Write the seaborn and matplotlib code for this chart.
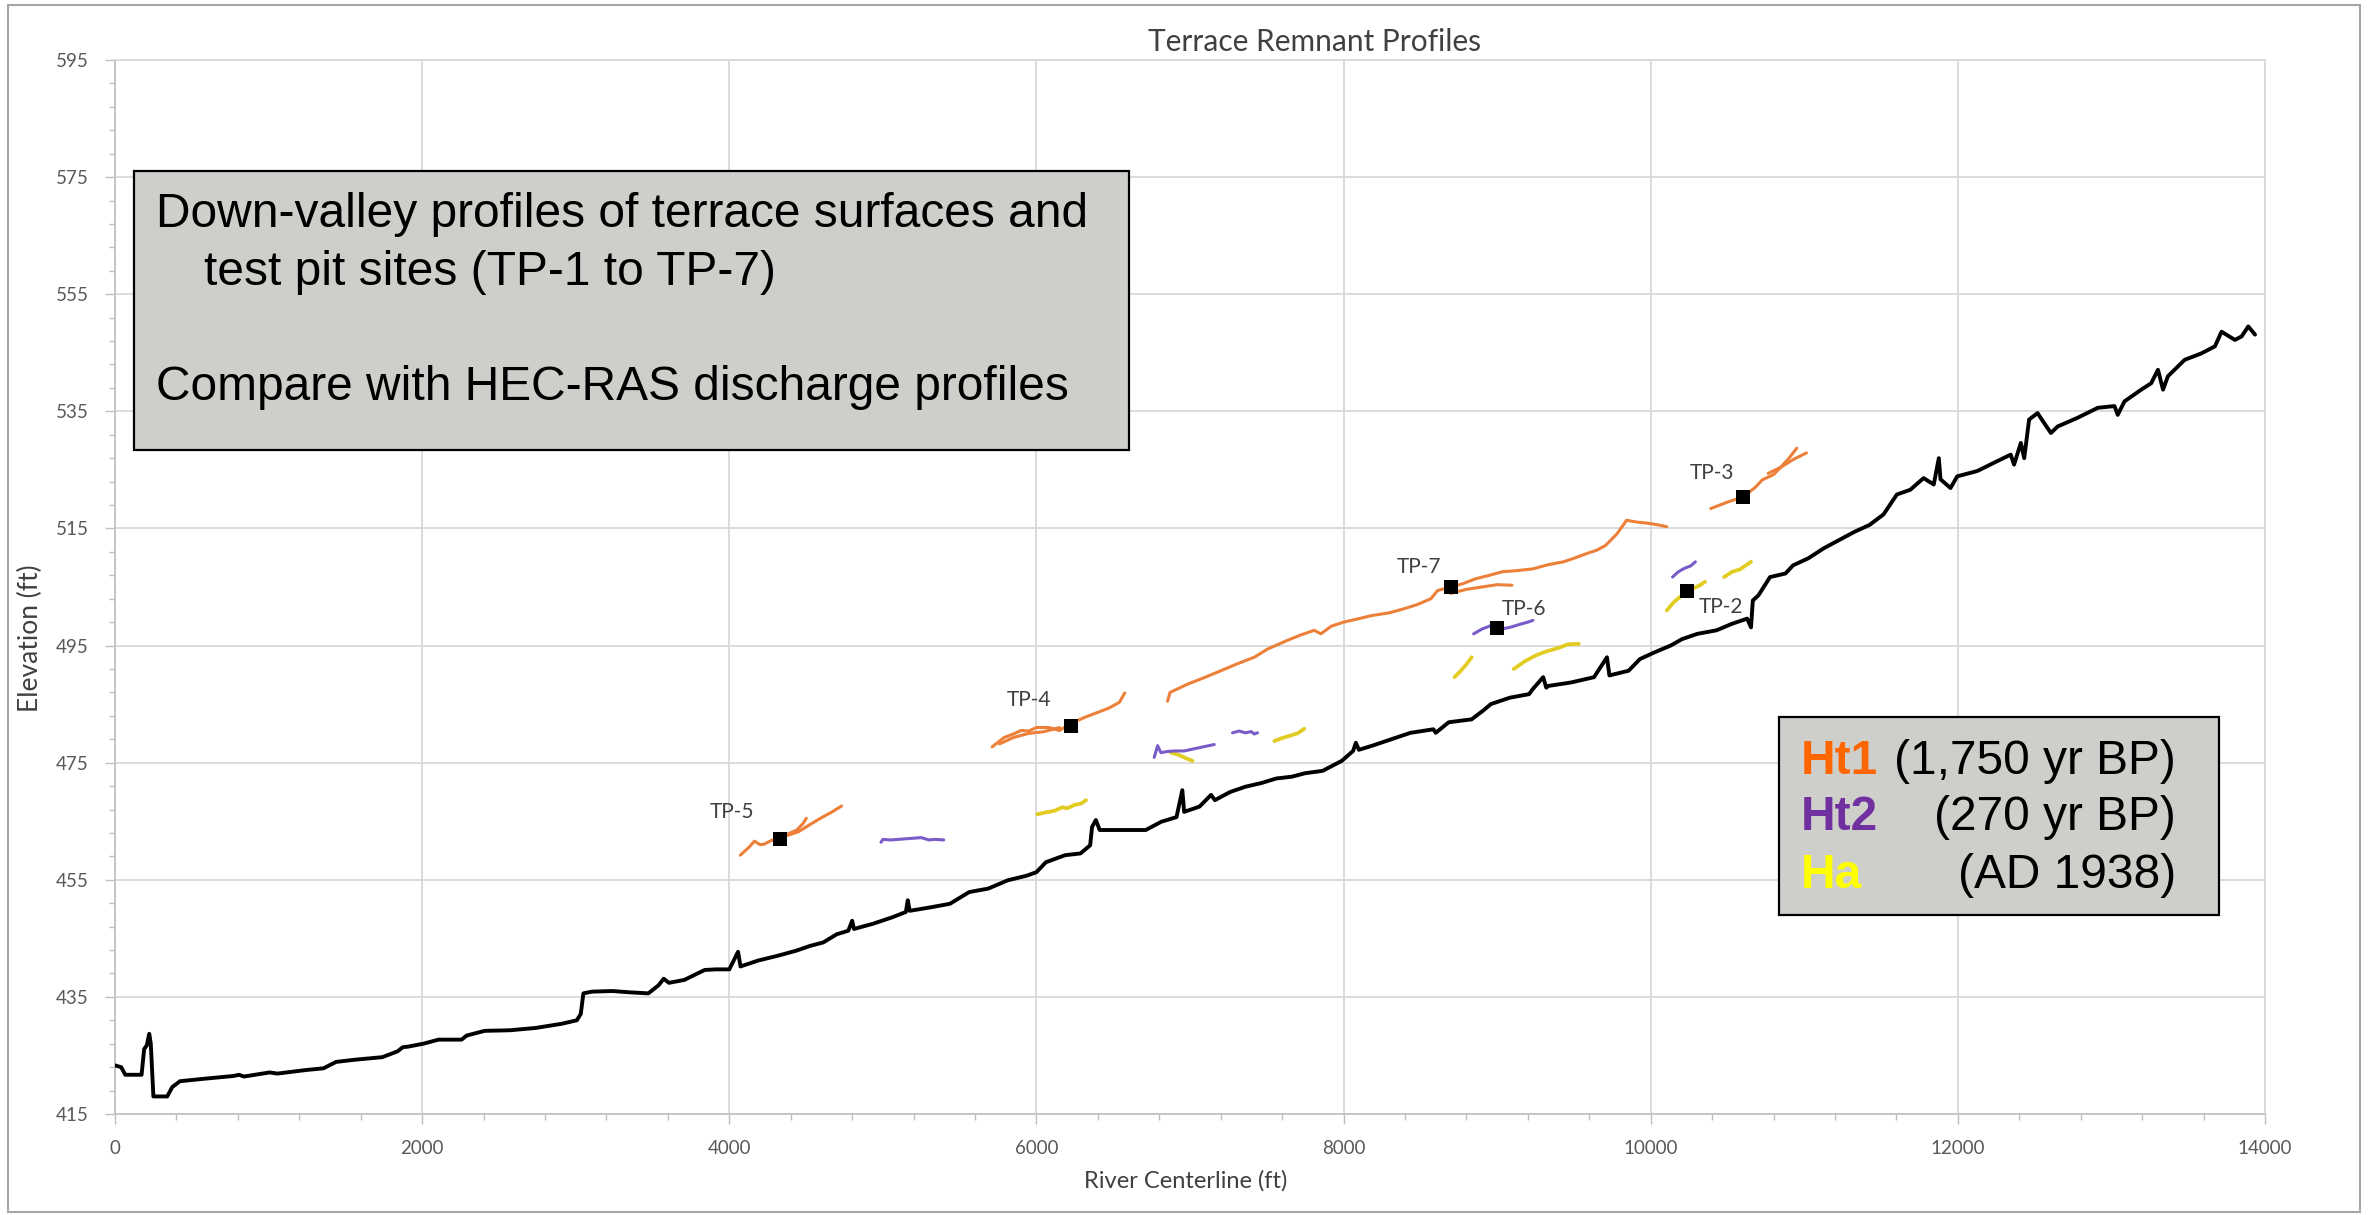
import numpy as np
import pandas as pd
import matplotlib
matplotlib.use("Agg")
import matplotlib.pyplot as plt
import seaborn as sns
from matplotlib.patches import Rectangle
from matplotlib.ticker import FixedLocator

# ---------------- data ----------------
# River thalweg profile (black line): river centerline distance (ft) vs elevation (ft)
thal_x = [0, 40, 67, 173, 190, 207, 223, 233, 250, 340, 373, 423, 573, 773, 807, 840, 1007, 1057,
          1240, 1357, 1440, 1573, 1740, 1840, 1873, 1907, 2007, 2107, 2257, 2290, 2407, 2573, 2740,
          2907, 3007, 3033, 3050, 3107, 3240, 3340, 3473, 3540, 3573, 3607, 3707, 3840, 3912, 4000,
          4057, 4073, 4187, 4312, 4437, 4525, 4612, 4700, 4775, 4800, 4812, 4937, 5062, 5150, 5162,
          5175, 5312, 5437, 5562, 5687, 5812, 5937, 6000, 6062, 6187, 6287, 6350, 6362, 6387, 6412,
          6562, 6712, 6812, 6912, 6950, 6962, 7062, 7137, 7162, 7262, 7362, 7462, 7562, 7662, 7750,
          7863, 7988, 8062, 8080, 8100, 8187, 8311, 8436, 8585, 8600, 8685, 8834, 8909, 8959, 9083,
          9208, 9233, 9300, 9320, 9333, 9482, 9631, 9715, 9731, 9856, 9930, 10030, 10130, 10204,
          10304, 10428, 10528, 10628, 10653, 10665, 10702, 10777, 10877, 10927, 11026, 11126, 11226,
          11325, 11425, 11516, 11603, 11690, 11777, 11843, 11876, 11887, 11952, 11996, 12126, 12257,
          12344, 12366, 12410, 12432, 12464, 12519, 12562, 12606, 12649, 12780, 12911, 13020, 13041,
          13085, 13194, 13259, 13303, 13336, 13368, 13477, 13586, 13674, 13717, 13804, 13848, 13891,
          13935]
thal_y = [423.3, 423.0, 421.7, 421.7, 426.1, 426.7, 428.7, 427.0, 418.0, 418.0, 419.6, 420.6, 421.0,
          421.5, 421.7, 421.4, 422.1, 421.9, 422.5, 422.8, 423.9, 424.3, 424.7, 425.7, 426.4, 426.5,
          427.0, 427.7, 427.7, 428.4, 429.2, 429.3, 429.7, 430.4, 431.0, 432.1, 435.6, 435.9, 436.0,
          435.8, 435.6, 437.0, 438.1, 437.4, 437.9, 439.6, 439.7, 439.7, 442.7, 440.2, 441.2, 442.0,
          442.9, 443.7, 444.3, 445.7, 446.3, 448.0, 446.6, 447.5, 448.6, 449.5, 451.5, 449.7, 450.3,
          450.9, 452.9, 453.5, 454.9, 455.7, 456.3, 458.0, 459.2, 459.5, 460.9, 464.0, 465.2, 463.5,
          463.5, 463.5, 464.9, 465.7, 470.3, 466.6, 467.5, 469.5, 468.6, 470.0, 470.9, 471.5, 472.3,
          472.6, 473.2, 473.6, 475.3, 477.0, 478.4, 477.2, 477.9, 479.0, 480.1, 480.7, 480.1, 481.9,
          482.4, 483.9, 485.0, 486.1, 486.7, 487.6, 489.6, 487.8, 488.1, 488.7, 489.6, 493.0, 489.9,
          490.7, 492.7, 493.9, 495.0, 496.1, 497.0, 497.6, 498.7, 499.6, 498.1, 502.7, 503.6, 506.7,
          507.3, 508.7, 509.9, 511.6, 513.0, 514.4, 515.6, 517.4, 520.8, 521.6, 523.6, 522.5, 527.0,
          523.4, 521.9, 523.9, 524.8, 526.5, 527.6, 525.9, 529.6, 527.0, 533.6, 534.7, 533.0, 531.3,
          532.4, 533.9, 535.6, 535.9, 534.4, 536.7, 538.7, 539.8, 542.1, 538.7, 541.0, 543.8, 544.9,
          546.1, 548.6, 547.2, 547.8, 549.5, 548.1]

# Ht1 terrace remnants (orange)
ht1_tp5a_x = [4072, 4130, 4164, 4200, 4229, 4280, 4327, 4380, 4440, 4480, 4502]
ht1_tp5a_y = [459.2, 460.6, 461.6, 461.0, 461.1, 461.8, 462.2, 462.8, 463.5, 464.6, 465.5]
ht1_tp5b_x = [4381, 4450, 4530, 4600, 4670, 4731]
ht1_tp5b_y = [462.6, 463.2, 464.5, 465.6, 466.6, 467.6]
ht1_tp4a_x = [5712, 5790, 5850, 5900, 5950, 6000, 6080, 6150, 6200, 6250, 6320, 6400, 6470, 6540, 6575]
ht1_tp4a_y = [477.7, 479.3, 479.9, 480.5, 480.4, 481.0, 481.0, 480.5, 481.3, 482.0, 482.8, 483.6, 484.3, 485.3, 486.9]
ht1_tp4b_x = [5760, 5850, 5950, 6050, 6150]
ht1_tp4b_y = [478.2, 479.3, 480.0, 480.3, 481.0]
ht1_tp7a_x = [6854, 6870, 6984, 7100, 7201, 7300, 7418, 7505, 7635, 7720, 7809, 7852, 7920, 8000,
              8100, 8178, 8300, 8395, 8480, 8569, 8612, 8699, 8780, 8859, 8950, 9034, 9130, 9233,
              9330, 9432, 9510, 9582, 9650, 9706, 9781, 9843, 9905, 9980, 10050, 10105]
ht1_tp7a_y = [485.5, 487.0, 488.4, 489.6, 490.7, 491.8, 493.0, 494.4, 495.9, 496.8, 497.6, 497.0,
              498.3, 499.0, 499.6, 500.1, 500.6, 501.3, 502.0, 503.0, 504.4, 505.0, 505.6, 506.4,
              507.0, 507.6, 507.8, 508.1, 508.8, 509.3, 510.0, 510.7, 511.3, 512.1, 514.1, 516.4,
              516.1, 515.9, 515.6, 515.3]
ht1_tp7b_x = [8697, 8800, 8900, 9000, 9096]
ht1_tp7b_y = [503.9, 504.6, 505.0, 505.4, 505.3]
ht1_tp3a_x = [10391, 10500, 10603, 10680, 10727, 10800, 10852, 10900, 10951]
ht1_tp3a_y = [518.4, 519.5, 520.4, 522.0, 523.3, 524.2, 525.6, 527.0, 528.7]
ht1_tp3b_x = [10765, 10850, 10930, 11014]
ht1_tp3b_y = [524.4, 525.5, 526.8, 527.9]

# Ht2 terrace remnants (purple)
ht2_a_x = [4988, 5000, 5050, 5100, 5150, 5200, 5250, 5300, 5340, 5396]
ht2_a_y = [461.4, 461.9, 461.8, 461.9, 462.0, 462.1, 462.2, 461.8, 461.9, 461.8]
ht2_b_x = [6767, 6789, 6811, 6850, 6900, 6962, 7050, 7158]
ht2_b_y = [475.9, 477.9, 476.7, 476.9, 477.0, 477.0, 477.5, 478.1]
ht2_c_x = [7277, 7320, 7360, 7400, 7418, 7440]
ht2_c_y = [480.1, 480.4, 480.1, 480.3, 479.9, 480.1]
ht2_tp6_x = [8847, 8900, 8959, 8996, 9040, 9083, 9120, 9158, 9200, 9233]
ht2_tp6_y = [497.0, 497.8, 498.4, 498.0, 497.9, 498.1, 498.4, 498.7, 499.0, 499.3]
ht2_tp2_x = [10142, 10180, 10220, 10260, 10291]
ht2_tp2_y = [506.7, 507.6, 508.2, 508.6, 509.3]

# Ha terrace remnants (yellow)
ha_a_x = [6006, 6060, 6120, 6170, 6200, 6250, 6290, 6323]
ha_a_y = [466.2, 466.5, 466.8, 467.4, 467.2, 467.8, 468.0, 468.6]
ha_b_x = [6876, 6920, 6970, 7017]
ha_b_y = [476.7, 476.4, 475.8, 475.3]
ha_c_x = [7549, 7600, 7650, 7700, 7744]
ha_c_y = [478.7, 479.2, 479.6, 480.0, 480.8]
ha_d_x = [8722, 8760, 8800, 8834]
ha_d_y = [489.6, 490.6, 491.8, 493.0]
ha_e_x = [9108, 9180, 9250, 9320, 9400, 9460, 9532]
ha_e_y = [491.0, 492.3, 493.3, 494.0, 494.6, 495.2, 495.3]
ha_f_x = [10105, 10150, 10200, 10237, 10280, 10320, 10354]
ha_f_y = [501.0, 502.4, 503.5, 504.2, 504.8, 505.3, 505.9]
ha_g_x = [10478, 10530, 10580, 10620, 10653]
ha_g_y = [506.7, 507.6, 508.0, 508.7, 509.3]

# Test pit sites
tp_names = ["TP-5", "TP-4", "TP-7", "TP-6", "TP-2", "TP-3"]
tp_x = [4327, 6225, 8699, 8996, 10237, 10603]
tp_y = [462.0, 481.2, 505.0, 498.0, 504.4, 520.4]
tp_label_x = [4020, 5950, 8491, 9178, 10458, 10396]
tp_label_y = [466.6, 485.7, 508.4, 501.3, 501.6, 524.4]

x_ticks = [0, 2000, 4000, 6000, 8000, 10000, 12000, 14000]
y_ticks = [415, 435, 455, 475, 495, 515, 535, 555, 575, 595]

# ---------------- styling ----------------
sns.set_theme(style="whitegrid")
plt.rcParams['font.family'] = ['Lato', 'DejaVu Sans']

W, H = 2371, 1215
fig = plt.figure(figsize=(W / 100, H / 100), dpi=100)
fig.patch.set_facecolor("white")

def fx(px):
    return px / W

def fy(py):
    return 1 - py / H

ax = fig.add_axes([fx(115), fy(1114), (2265 - 115) / W, (1114 - 60) / H])
ax.set_facecolor("white")

# thalweg
thal = pd.DataFrame({"x": thal_x, "y": thal_y})
sns.lineplot(data=thal, x="x", y="y", sort=False, estimator=None, color="black",
             lw=2.8, ax=ax, zorder=3)

def build(cls, segs):
    rows = []
    for i, (xs, ys) in enumerate(segs):
        for x, y in zip(xs, ys):
            rows.append((cls, f"{cls}-{i}", x, y))
    return pd.DataFrame(rows, columns=["terrace", "seg", "x", "y"])

df_ht1 = build("Ht1", [(ht1_tp5a_x, ht1_tp5a_y), (ht1_tp5b_x, ht1_tp5b_y),
                       (ht1_tp4a_x, ht1_tp4a_y), (ht1_tp4b_x, ht1_tp4b_y),
                       (ht1_tp7a_x, ht1_tp7a_y), (ht1_tp7b_x, ht1_tp7b_y),
                       (ht1_tp3a_x, ht1_tp3a_y), (ht1_tp3b_x, ht1_tp3b_y)])
df_ht2 = build("Ht2", [(ht2_a_x, ht2_a_y), (ht2_b_x, ht2_b_y), (ht2_c_x, ht2_c_y),
                       (ht2_tp6_x, ht2_tp6_y), (ht2_tp2_x, ht2_tp2_y)])
df_ha = build("Ha", [(ha_a_x, ha_a_y), (ha_b_x, ha_b_y), (ha_c_x, ha_c_y), (ha_d_x, ha_d_y),
                     (ha_e_x, ha_e_y), (ha_f_x, ha_f_y), (ha_g_x, ha_g_y)])

for d, col, lw in [(df_ha, "#E2CC22", 2.7), (df_ht2, "#7A5CC8", 2.2), (df_ht1, "#EC8038", 2.2)]:
    sns.lineplot(data=d, x="x", y="y", units="seg", estimator=None, sort=False,
                 color=col, lw=lw, legend=False, ax=ax, zorder=4)

sns.scatterplot(x=tp_x, y=tp_y, marker="s", s=95, color="black", edgecolor="black",
                linewidth=0, ax=ax, zorder=6, legend=False)
for name, lx, ly in zip(tp_names, tp_label_x, tp_label_y):
    ax.text(lx, ly, name, ha="center", va="center", fontsize=15, color="#404040", zorder=7)

# axes
ax.set_xlim(0, 14000)
ax.set_ylim(415, 595)
ax.set_xticks(x_ticks)
ax.set_yticks(y_ticks)
ax.xaxis.set_minor_locator(FixedLocator(np.arange(0, 14001, 400)))
ax.yaxis.set_minor_locator(FixedLocator(np.arange(415, 596, 4)))
ax.grid(which="major", color="#d9d9d9", lw=1.3)
ax.grid(which="minor", visible=False)
ax.tick_params(axis="both", which="major", labelsize=13.5, labelcolor="#595959", color="#bfbfbf",
               length=7, width=1, direction="out", left=True, bottom=True, pad=12)
ax.tick_params(axis="both", which="minor", color="#bfbfbf", length=4, width=1,
               direction="out", left=True, bottom=True)
for side in ["left", "bottom"]:
    ax.spines[side].set_color("#bfbfbf")
    ax.spines[side].set_linewidth(1.2)
for side in ["top", "right"]:
    ax.spines[side].set_color("#d9d9d9")
    ax.spines[side].set_linewidth(1.3)
ax.set_xlabel("")
ax.set_ylabel("")

fig.text(fx(1186), fy(1181), "River Centerline (ft)", ha="center", va="center",
         fontsize=17, color="#404040")
fig.text(fx(30), fy(638), "Elevation (ft)", ha="center", va="center", rotation=90,
         fontsize=19, color="#404040")
fig.text(fx(1315), fy(42), "Terrace Remnant Profiles", ha="center", va="center",
         fontsize=21.5, color="#404040")

# annotation box
box_font = ["Liberation Sans", "DejaVu Sans"]
FS = 34.5
fig.add_artist(Rectangle((fx(134), fy(450)), (1129 - 134) / W, (450 - 171) / H,
                         transform=fig.transFigure, facecolor="#CECECA", edgecolor="black",
                         lw=1.6, zorder=10))
fig.text(fx(156), fy(227), "Down-valley profiles of terrace surfaces and", family=box_font,
         fontsize=FS, va="baseline", ha="left", color="black", zorder=11)
fig.text(fx(204), fy(285), "test pit sites (TP-1 to TP-7)", family=box_font,
         fontsize=FS, va="baseline", ha="left", color="black", zorder=11)
fig.text(fx(156), fy(400), "Compare with HEC-RAS discharge profiles", family=box_font,
         fontsize=FS, va="baseline", ha="left", color="black", zorder=11)

# legend box
fig.add_artist(Rectangle((fx(1779), fy(915)), (2219 - 1779) / W, (915 - 717) / H,
                         transform=fig.transFigure, facecolor="#CECECA", edgecolor="black",
                         lw=1.6, zorder=10))
legend_rows = [("Ht1", "#FF6600", "(1,750 yr BP)", 774),
               ("Ht2", "#7030A0", "(270 yr BP)", 830),
               ("Ha", "#FFFF00", "(AD 1938)", 888)]
for lab, col, desc, base in legend_rows:
    fig.text(fx(1801), fy(base), lab, family=box_font, fontsize=FS, weight="bold",
             color=col, va="baseline", ha="left", zorder=11)
    fig.text(fx(2176), fy(base), desc, family=box_font, fontsize=FS, color="black",
             va="baseline", ha="right", zorder=11)

# outer frame
fig.add_artist(Rectangle((fx(8), fy(1212)), (2360 - 8) / W, (1212 - 5) / H,
                         transform=fig.transFigure, fill=False, edgecolor="#A6A6A6",
                         lw=1.5, zorder=12))

fig.savefig("out.png", dpi=100, facecolor="white")
